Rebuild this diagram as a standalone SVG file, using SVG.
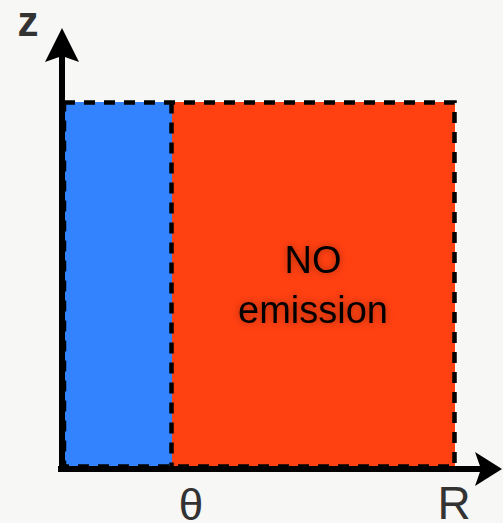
<svg xmlns="http://www.w3.org/2000/svg" width="503" height="523" viewBox="0 0 503 523">
<defs>
<style>
.dash{fill:none;stroke:#000;stroke-width:4.5;stroke-dasharray:11 9}
.axis{stroke:#000;stroke-width:6;fill:none}
.lbl{font-family:"Liberation Sans",Arial,sans-serif;fill:#333}
</style>
<filter id="glow" x="-20%" y="-20%" width="140%" height="140%">
<feGaussianBlur in="SourceAlpha" stdDeviation="3.5" result="b"/>
<feFlood flood-color="#000" flood-opacity="0.35"/>
<feComposite in2="b" operator="in" result="s"/>
<feMerge><feMergeNode in="s"/><feMergeNode in="SourceGraphic"/></feMerge>
</filter>
</defs>
<rect width="503" height="523" fill="#f7f7f5"/>
<g id="blue-region">
<rect x="63" y="102" width="109" height="365" fill="#3383ff"/>
</g>
<g id="red-region">
<rect x="172" y="102" width="283" height="365" fill="#ff4011"/>
<text x="313" y="273" text-anchor="middle" font-family="'Liberation Sans',Arial,sans-serif" font-size="38" fill="#000" filter="url(#glow)">NO</text>
<text x="313" y="323" text-anchor="middle" font-family="'Liberation Sans',Arial,sans-serif" font-size="38" fill="#000" filter="url(#glow)">emission</text>
</g>
<g id="connectors">
<rect class="dash" x="64" y="102.5" width="390.5" height="364"/>
<line class="dash" x1="171.5" y1="102.5" x2="171.5" y2="467"/>
<line class="axis" x1="62" y1="472" x2="62" y2="55"/>
<path d="M62 28 L79 62 L62 56 L45 62 Z" fill="#000"/>
<line class="axis" x1="58" y1="469" x2="490" y2="469"/>
<path d="M502 469 L475 486 L481 469 L475 452 Z" fill="#000"/>
</g>
<g id="labels">
<text class="lbl" x="28" y="36" text-anchor="middle" font-size="42" font-weight="bold" fill="#4a4a4a">z</text>
<text class="lbl" x="191" y="520" text-anchor="middle" font-size="44">θ</text>
<text class="lbl" x="454" y="519" text-anchor="middle" font-size="46">R</text>
</g>
</svg>
